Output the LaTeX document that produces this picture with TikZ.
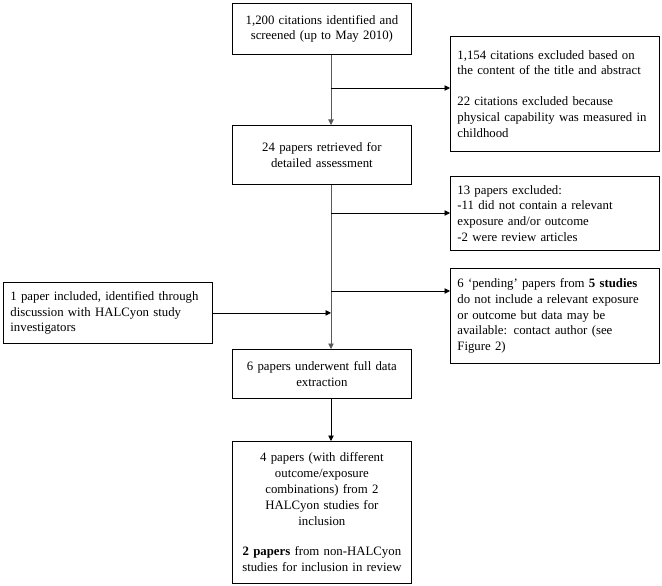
\documentclass[tikz,border=0pt]{standalone}
\usepackage{fontspec}
\setmainfont{Liberation Serif}
\usetikzlibrary{arrows.meta}

\tikzset{
  stage/.style={draw, line width=0.8pt, anchor=north west, align=center, inner sep=4pt,
    font=\fontsize{12.8}{15.8}\selectfont},
  note/.style={stage, align=left, inner xsep=7pt, text width=195pt, minimum height=#1},
  flow/.style={line width=0.8pt, -{Triangle[length=5.5pt,width=5.5pt]}},
  spinepart/.style={flow, draw=black!65},
}

\begin{document}
\begin{tikzpicture}[x=1pt, y=-1pt]
\useasboundingbox (0,0) rectangle (662,586);

\node[stage, text width=171pt, minimum height=51pt] (found) at (232,3) {1,200 citations identified and\\screened (up to May 2010)};
\node[stage, text width=171pt, minimum height=59pt] (retrieved) at (232,125) {24 papers retrieved for\\detailed assessment};
\node[stage, text width=171pt, minimum height=49pt] (extracted) at (232,349) {6 papers underwent full data\\extraction};
\node[stage, text width=171pt, minimum height=142pt] (included) at (232,441) {4 papers (with different\\outcome/exposure\\combinations) from 2\\HALCyon studies for\\inclusion\\[15pt]\textbf{2 papers} from non-HALCyon\\studies for inclusion in review};

\node[note=115pt] (exclA) at (450,36) {1,154 citations excluded based on\\the content of the title and abstract\\[15pt]22 citations excluded because\\physical capability was measured in\\childhood};
\node[note=74pt] (exclB) at (450,176) {13 papers excluded:\\-11 did not contain a relevant\\exposure and/or outcome\\-2 were review articles};
\node[note=95pt] (pending) at (450,268) {6 `pending' papers from \textbf{5 studies}\\do not include a relevant exposure\\or outcome but data may be\\available: contact author (see\\Figure 2)};
\node[stage, align=left, inner xsep=7pt, text width=195pt, minimum height=61pt] (extra) at (3,282) {1 paper included, identified through\\discussion with HALCyon study\\investigators};

% main line
\coordinate (spine) at (331,0);
\draw[spinepart] (found.south -| spine) -- (retrieved.north -| spine);
\draw[spinepart] (retrieved.south -| spine) -- (extracted.north -| spine);
\draw[flow] (extracted.south -| spine) -- (included.north -| spine);

% side branches
\coordinate (bA) at (331,88);
\coordinate (bB) at (331,213);
\coordinate (bC) at (331,291);
\draw[flow] (bA) -- (bA -| exclA.west);
\draw[flow] (bB) -- (bB -| exclB.west);
\draw[flow] (bC) -- (bC -| pending.west);
\draw[flow] (extra.east) -- (extra.east -| spine);
\end{tikzpicture}
\end{document}
